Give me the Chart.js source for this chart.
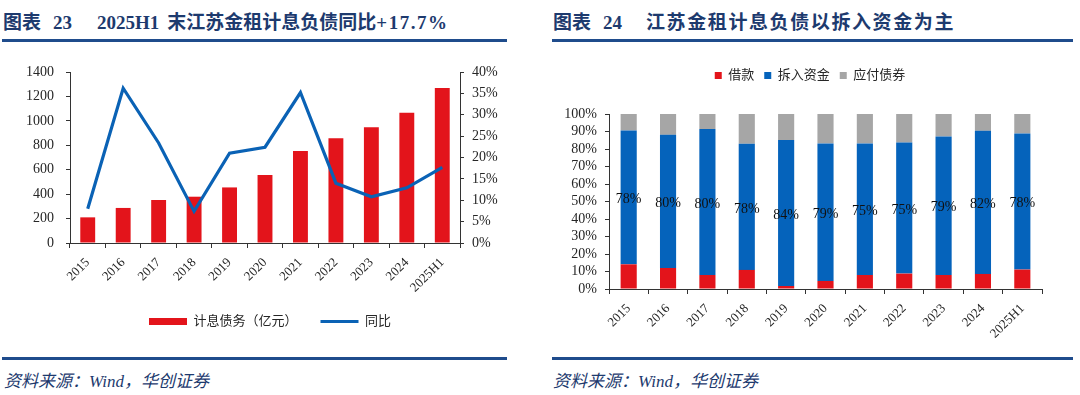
<!DOCTYPE html>
<html>
<head>
<meta charset="utf-8">
<script src="https://cdn.jsdelivr.net/npm/chart.js@4.4.1/dist/chart.umd.min.js"></script>
<style>
  body { margin: 0; background: #fff; width: 1080px; height: 395px; overflow: hidden; position: relative; }
  .title { position: absolute; top: 11px; line-height: 24px; font-size: 19px; font-weight: bold;
           font-family: 'Liberation Serif', 'Noto Sans CJK SC'; color: #1D3A6E; white-space: nowrap; }
  .rule { position: absolute; height: 3px; background: #1F4C8C; }
  .src { position: absolute; top: 371px; font-size: 17px; font-style: italic; line-height: 22px;
         font-family: 'Liberation Serif', 'Noto Sans CJK SC'; color: #1D3A6E; white-space: nowrap; }
  canvas { position: absolute; top: 50px; }
</style>
</head>
<body>
<div class="title" style="left:3px">图表<span style="margin-left:12px">23</span><span style="margin-left:25px">2025H1</span><span style="margin-left:8px">末江苏金租计息负债同比</span><span style="letter-spacing:1.5px">+17.7%</span></div>
<div class="rule" style="left:2px;width:505px;top:39px"></div>
<div class="title" style="left:553px">图表<span style="margin-left:12px">24</span><span style="margin-left:24px;letter-spacing:1.6px">江苏金租计息负债以拆入资金为主</span></div>
<div class="rule" style="left:552px;width:521px;top:39px"></div>

<canvas id="c1" width="540" height="295" style="left:0"></canvas>
<canvas id="c2" width="540" height="295" style="left:540px"></canvas>

<div class="rule" style="left:2px;width:505px;top:357px"></div>
<div class="rule" style="left:552px;width:521px;top:357px"></div>
<div class="src" style="left:4px">资料来源：Wind，华创证券</div>
<div class="src" style="left:553px">资料来源：Wind，华创证券</div>

<script>
// categories
const years = ['2015', '2016', '2017', '2018', '2019', '2020', '2021', '2022', '2023', '2024', '2025H1'];

// figure 23: interest-bearing debt (100m yuan) and yoy growth (%)
const debt = [210, 287, 352, 379, 455, 557, 753, 857, 947, 1067, 1270];
const debtYoy = [8.0, 36.2, 23.4, 7.4, 21.0, 22.4, 35.2, 14.0, 10.8, 12.9, 17.7];

// figure 24: structure of interest-bearing debt (%)
const loanShare = [14.1, 12.0, 8.0, 10.9, 1.7, 4.6, 8.0, 8.8, 8.0, 8.6, 11.1];
const borrowShare = [76.5, 76.1, 83.4, 72.1, 83.4, 78.6, 75.2, 74.9, 79.2, 81.8, 77.8];
const bondShare = [9.4, 11.9, 8.6, 17.0, 14.9, 16.8, 16.8, 16.3, 12.8, 9.6, 11.1];
// printed labels on the blue segments
const borrowLabels = [78, 80, 80, 78, 84, 79, 75, 75, 79, 82, 78];

const SERIF = "'Liberation Serif', 'Noto Sans CJK SC'";
const RED = '#E3141B';
const BLUE = '#0563BB';
const GREY = '#A6A6A6';
const AXIS = '#333';
const TXT = '#262626';

// ---------- left: bars + yoy line ----------
new Chart(document.getElementById('c1'), {
  data: {
    labels: years,
    datasets: [
      {
        type: 'bar', label: '计息债务（亿元）', data: debt, yAxisID: 'y',
        backgroundColor: RED, borderWidth: 0,
        barPercentage: 0.84, categoryPercentage: 0.5, order: 2
      },
      {
        type: 'line', label: '同比', data: debtYoy, yAxisID: 'y1',
        borderColor: '#0A62B5', backgroundColor: '#0A62B5', borderWidth: 3.2,
        pointRadius: 0, tension: 0, order: 1
      }
    ]
  },
  options: {
    responsive: false,
    animation: false,
    layout: { padding: { left: 0, right: 0, top: 22, bottom: 7 } },
    plugins: {
      tooltip: { enabled: false },
      legend: {
        position: 'bottom',
        labels: {
          usePointStyle: true, pointStyleWidth: 38, boxHeight: 7, padding: 10,
          color: TXT, font: { family: SERIF, size: 13 },
          sort: (a, b) => a.datasetIndex - b.datasetIndex,
          generateLabels(chart) {
            const items = Chart.defaults.plugins.legend.labels.generateLabels(chart);
            items.forEach(it => {
              if (it.datasetIndex === 0) {
                it.pointStyle = 'rect';
                it.lineWidth = 0;
                it.text = it.text + '    ';
              } else {
                it.pointStyle = 'line';
                it.lineWidth = 3.2;
              }
            });
            return items;
          }
        }
      }
    },
    scales: {
      x: {
        offset: true,
        grid: { offset: true, drawOnChartArea: false, tickLength: 5, color: AXIS },
        border: { color: AXIS },
        ticks: { minRotation: 45, maxRotation: 45, padding: 7, color: TXT, font: { family: SERIF, size: 13 } },
        afterFit(s) { s.height = 62; }
      },
      y: {
        position: 'left', min: 0, max: 1400,
        grid: { drawOnChartArea: false, tickLength: 4, color: AXIS },
        border: { color: AXIS },
        ticks: { stepSize: 200, padding: 12, autoSkip: false, color: TXT, font: { family: SERIF, size: 14 },
                 callback: v => String(v) },
        afterFit(s) { s.width = 70; }
      },
      y1: {
        position: 'right', min: 0, max: 40,
        grid: { drawOnChartArea: false, tickLength: 4, color: AXIS },
        border: { color: AXIS },
        ticks: { stepSize: 5, padding: 8, autoSkip: false, color: TXT, font: { family: SERIF, size: 14 },
                 callback: v => v + '%' },
        afterFit(s) { s.width = 80; }
      }
    }
  }
});

// ---------- right: stacked 100% bars ----------
const segmentLabels = {
  id: 'segmentLabels',
  afterDatasetsDraw(chart) {
    const meta = chart.getDatasetMeta(1);
    const ctx = chart.ctx;
    ctx.save();
    ctx.font = "14px 'Liberation Serif'";
    ctx.fillStyle = '#111';
    ctx.textAlign = 'center';
    ctx.textBaseline = 'middle';
    meta.data.forEach((bar, i) => {
      ctx.fillText(borrowLabels[i] + '%', bar.x, (bar.y + bar.base) / 2 + 2);
    });
    ctx.restore();
  }
};

const legendGap = {
  id: 'legendGap',
  beforeInit(chart) {
    const fit = chart.legend.fit;
    chart.legend.fit = function () {
      fit.bind(chart.legend)();
      this.height += 22;
    };
  }
};

new Chart(document.getElementById('c2'), {
  type: 'bar',
  data: {
    labels: years,
    datasets: [
      { label: '借款', data: loanShare, backgroundColor: RED },
      { label: '拆入资金', data: borrowShare, backgroundColor: BLUE },
      { label: '应付债券', data: bondShare, backgroundColor: GREY }
    ]
  },
  options: {
    responsive: false,
    animation: false,
    barPercentage: 0.82,
    categoryPercentage: 0.5,
    layout: { padding: { left: 0, right: 0, top: 9, bottom: 0 } },
    plugins: {
      tooltip: { enabled: false },
      legend: {
        position: 'top',
        labels: { boxWidth: 7, boxHeight: 7, padding: 10, color: TXT, font: { family: SERIF, size: 13 } }
      }
    },
    scales: {
      x: {
        stacked: true, offset: true,
        grid: { offset: true, drawOnChartArea: false, tickLength: 5, color: AXIS },
        border: { color: AXIS },
        ticks: { minRotation: 45, maxRotation: 45, padding: 7, color: TXT, font: { family: SERIF, size: 13 } },
        afterFit(s) { s.height = 56; }
      },
      y: {
        stacked: true, min: 0, max: 100,
        grid: { drawOnChartArea: false, tickLength: 4, color: AXIS },
        border: { color: AXIS },
        ticks: { stepSize: 10, padding: 8, autoSkip: false, color: TXT, font: { family: SERIF, size: 14 },
                 callback: v => v + '%' },
        afterFit(s) { s.width = 69; }
      },
      pad: {
        position: 'right', display: true,
        grid: { display: false }, border: { display: false }, ticks: { display: false },
        afterFit(s) { s.width = 38; }
      }
    }
  },
  plugins: [segmentLabels, legendGap]
});
</script>
</body>
</html>
